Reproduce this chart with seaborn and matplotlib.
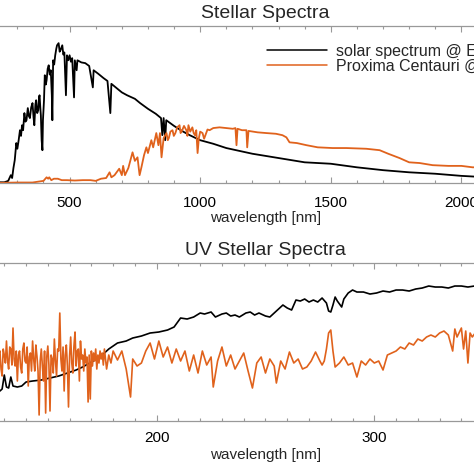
import numpy as np
import pandas as pd
import matplotlib
matplotlib.use("Agg")
import matplotlib.pyplot as plt
import seaborn as sns
from matplotlib.ticker import MultipleLocator

# ---- full spectra (arbitrary flux units) ----
solar_wl = [200, 232, 250, 265, 275, 280, 285, 290, 296, 300, 305, 310, 314, 318, 322, 327, 331, 335, 340, 344, 348,
            353, 358, 362, 365, 369, 372, 376, 380, 383, 385, 388, 390, 393, 396, 398, 402, 405, 409, 412, 416, 420, 424, 428, 432, 434,
            437, 441, 445, 449, 452, 458, 462, 465, 472, 476, 480, 486, 490, 495, 500, 505, 510, 517, 520, 527, 530, 545, 560,
            575, 589, 592, 610, 630, 645, 656, 660, 680, 700, 720, 750, 770, 800, 830, 850,
            855, 860, 866, 870, 900, 930, 960, 1000, 1050, 1100, 1150, 1200, 1250, 1300,
            1400, 1500, 1600, 1700, 1800, 1900, 2000, 2100]
solar_flux = [0.0, 0.01, 0.01, 0.03, 0.11, 0.07, 0.21, 0.32, 0.56, 0.48, 0.60, 0.74, 0.66, 0.81, 0.74, 0.98, 0.86, 0.88, 1.05, 0.94, 0.91,
              1.06, 1.12, 0.92, 0.81, 1.10, 1.16, 0.98, 1.02, 1.20, 1.23, 1.05, 0.95, 0.60, 0.46, 0.88, 1.16, 1.51, 1.38, 1.44, 1.60, 1.65, 1.52, 1.58, 1.23, 0.88,
              1.72, 1.66, 1.79, 1.88, 1.93, 1.96, 1.84, 1.86, 1.93, 1.80, 1.83, 1.23, 1.79, 1.72, 1.79, 1.70, 1.75, 1.20, 1.72, 1.58, 1.72, 1.69, 1.68,
              1.64, 1.34, 1.58, 1.53, 1.47, 1.43, 0.98, 1.39, 1.33, 1.27, 1.23, 1.18, 1.12, 1.04, 0.97, 0.91,
              0.67, 0.91, 0.60, 0.88, 0.80, 0.73, 0.67, 0.60, 0.55, 0.49, 0.45, 0.41, 0.38, 0.35,
              0.29, 0.27, 0.22, 0.18, 0.15, 0.13, 0.10, 0.08]

proxima_wl = [200, 300, 358, 400, 412, 418, 422, 430, 440, 455, 470, 490, 520, 550, 580, 600,
              620, 640, 653, 660, 672, 690, 700, 705, 712, 725, 741, 750, 760, 768, 775, 785,
              794, 800, 813, 820, 832, 840, 846, 852, 860, 871, 876, 880, 886, 894, 899, 905, 912, 921, 925, 930, 938, 947,
              951, 955, 962, 970, 975, 980, 985, 990, 995, 1000, 1009, 1015, 1020, 1028, 1036, 1050, 1074, 1100, 1125, 1135, 1139,
              1143, 1160, 1177, 1180, 1185, 1220, 1253, 1290, 1315, 1330, 1342, 1370, 1407,
              1450, 1507, 1560, 1636, 1687, 1720, 1763, 1800, 1840, 1890, 1950, 2000, 2043, 2100]
proxima_flux = [0.0, 0.007, 0.007, 0.03, 0.08, 0.06, 0.08, 0.04, 0.06, 0.06, 0.04, 0.04, 0.035, 0.04, 0.04, 0.03,
                0.06, 0.07, 0.15, 0.08, 0.11, 0.20, 0.11, 0.24, 0.11, 0.21, 0.43, 0.31, 0.36, 0.11, 0.22, 0.39,
                0.50, 0.42, 0.60, 0.50, 0.70, 0.53, 0.70, 0.36, 0.63, 0.70, 0.60, 0.63, 0.72, 0.74, 0.66, 0.70, 0.78, 0.81, 0.70, 0.73, 0.80, 0.74,
                0.66, 0.81, 0.72, 0.78, 0.70, 0.67, 0.74, 0.42, 0.63, 0.72, 0.70, 0.62, 0.67, 0.75, 0.74, 0.77, 0.78, 0.77, 0.76, 0.77, 0.53,
                0.76, 0.74, 0.74, 0.50, 0.73, 0.71, 0.70, 0.69, 0.67, 0.64, 0.57, 0.56, 0.53,
                0.50, 0.49, 0.49, 0.48, 0.46, 0.41, 0.35, 0.29, 0.28, 0.25, 0.24, 0.24, 0.22, 0.22]

# ---- UV spectra ----
uv_solar_wl = [120, 125, 128, 129, 130, 131, 132, 133, 134, 136, 138, 140, 143, 147, 151, 155,
               159, 163, 166, 170, 174, 178, 182, 186, 189, 193, 197, 201, 205, 208, 210, 211,
               214, 217, 220, 222, 225, 227, 230, 232, 234, 236, 238, 241, 243, 245, 247, 250,
               252, 254, 256, 258, 260, 262, 264, 266, 268, 270, 272, 274, 276, 278, 279, 280,
               281, 282, 283, 285, 286, 288, 290, 292, 295, 298, 301, 304, 307, 310, 313, 316,
               319, 322, 325, 328, 331, 334, 337, 340, 343, 346, 350]
uv_solar_flux = [0.30, 0.31, 0.30, 0.32, 0.46, 0.34, 0.33, 0.44, 0.35, 0.34, 0.35, 0.39, 0.40, 0.41, 0.43, 0.45,
                 0.48, 0.51, 0.54, 0.59, 0.64, 0.72, 0.78, 0.80, 0.83, 0.85, 0.88, 0.89, 0.91, 0.94, 1.00, 1.03,
                 1.02, 1.04, 1.08, 1.07, 1.09, 1.04, 1.07, 1.08, 1.05, 1.06, 1.04, 1.08, 1.09, 1.06, 1.08, 1.05,
                 1.04, 1.08, 1.12, 1.16, 1.13, 1.11, 1.21, 1.20, 1.22, 1.19, 1.21, 1.19, 1.23, 1.18, 1.10, 1.09,
                 1.16, 1.24, 1.20, 1.14, 1.22, 1.28, 1.31, 1.29, 1.29, 1.27, 1.28, 1.30, 1.29, 1.31, 1.31, 1.30,
                 1.32, 1.33, 1.35, 1.34, 1.34, 1.33, 1.35, 1.35, 1.34, 1.35, 1.35]

uv_proxima_wl = [125, 125.5, 126, 126.5, 127, 127.5, 128, 128.5, 129, 129.5, 130, 130.5, 131, 131.5, 132, 132.5,
                 133, 133.5, 134, 134.5, 135, 135.5, 136, 136.5, 137, 137.5, 138, 138.5, 139, 139.5, 140, 140.5,
                 141, 141.5, 142, 142.5, 143, 143.5, 144, 144.5, 145, 145.5, 146, 146.5, 147, 147.5, 148, 148.5,
                 149, 149.5, 150, 150.5, 151, 151.5, 152, 152.5, 153, 153.5, 154, 154.5, 155, 155.5, 156, 156.5,
                 157, 157.5, 158, 158.5, 159, 159.5, 160, 160.5, 161, 161.5, 162, 162.5, 163, 163.5, 164, 164.5,
                 165, 165.5, 166, 166.5, 167, 167.5, 168, 168.5, 169, 169.5, 170, 170.5, 171, 171.5, 172, 172.5,
                 173, 173.5, 174, 174.5, 175, 175.5, 176, 177, 178, 179, 180,
                 182, 184, 186, 188, 189, 191, 193, 195,
                 197, 199, 201, 203, 205, 207, 209, 211, 213, 215, 217, 219, 221, 223, 225, 226,
                 228, 230, 232, 234, 236, 238, 240, 242, 244, 246, 248, 250, 252, 254, 255, 257,
                 259, 261, 263, 265, 267, 269, 271, 273, 275, 276, 277, 278, 279, 280, 281, 282,
                 284, 286, 288, 290, 292, 294, 296, 298, 300, 302, 304, 306, 308, 310, 312, 314,
                 316, 318, 320, 322, 324, 326, 328, 330, 332, 334, 336, 337, 338, 340, 341, 342,
                 343, 344, 345, 347, 350]
uv_proxima_flux = [0.62, 0.70, 0.75, 0.55, 0.50, 0.68, 0.70, 0.52, 0.45, 0.72, 0.66, 0.58, 0.80, 0.60, 0.52, 0.74,
                   0.72, 0.56, 0.93, 0.62, 0.55, 0.70, 0.40, 0.66, 0.70, 0.54, 0.48, 0.72, 0.78, 0.60, 0.58, 0.74,
                   0.35, 0.64, 0.68, 0.50, 0.80, 0.62, 0.50, 0.76, 0.65, 0.50, 0.06, 0.60, 0.72, 0.55, 0.40, 0.70,
                   0.08, 0.64, 0.75, 0.56, 0.10, 0.66, 0.62, 0.48, 0.82, 0.60, 0.45, 0.72, 0.70, 1.08, 0.62, 0.50,
                   0.74, 0.30, 0.66, 0.76, 0.55, 0.14, 0.65, 0.84, 0.58, 0.48, 0.75, 0.89, 0.55, 0.70, 0.72, 0.40,
                   0.80, 0.62, 0.66, 0.50, 0.72, 0.58, 0.64, 0.19, 0.66, 0.22, 0.70, 0.55, 0.68, 0.60, 0.72, 0.52,
                   0.66, 0.58, 0.70, 0.62, 0.68, 0.56, 0.72, 0.52, 0.66, 0.58, 0.70,
                   0.61, 0.70, 0.52, 0.24, 0.62, 0.55, 0.58, 0.70,
                   0.78, 0.62, 0.80, 0.64, 0.74, 0.58, 0.72, 0.60, 0.70, 0.50, 0.66, 0.48, 0.70, 0.56, 0.64, 0.34,
                   0.60, 0.74, 0.55, 0.66, 0.52, 0.60, 0.68, 0.50, 0.33, 0.58, 0.64, 0.48, 0.62, 0.55, 0.38, 0.60,
                   0.52, 0.69, 0.58, 0.62, 0.52, 0.54, 0.60, 0.69, 0.60, 0.56, 0.60, 0.72, 0.88, 0.91, 0.70, 0.54,
                   0.58, 0.64, 0.56, 0.58, 0.44, 0.60, 0.56, 0.62, 0.58, 0.60, 0.51, 0.66, 0.68, 0.70, 0.74, 0.72,
                   0.78, 0.76, 0.82, 0.80, 0.84, 0.86, 0.84, 0.88, 0.90, 0.86, 0.70, 0.92, 0.84, 0.93, 0.72, 0.90,
                   0.58, 0.88, 0.84, 0.90, 0.86]

labels = ["solar spectrum @ Earth", "Proxima Centauri @ Proxima b"]
colors = ["black", "#E0621C"]

sns.set_theme(style="white")
plt.rcParams["font.family"] = ["Liberation Sans", "DejaVu Sans"]

full = pd.concat([
    pd.DataFrame({"wl": solar_wl, "flux": solar_flux, "src": labels[0]}),
    pd.DataFrame({"wl": proxima_wl, "flux": proxima_flux, "src": labels[1]}),
])
uv = pd.concat([
    pd.DataFrame({"wl": uv_solar_wl, "flux": uv_solar_flux, "src": labels[0]}),
    pd.DataFrame({"wl": uv_proxima_wl, "flux": uv_proxima_flux, "src": labels[1]}),
])

fig = plt.figure(figsize=(4.74, 4.74), dpi=100)
# axes run past the figure edges (the reference is a crop of a wider figure)
ax1 = fig.add_axes([-0.1287, 0.6139, 1.3776, 0.3312])
ax2 = fig.add_axes([-0.1287, 0.1118, 1.3776, 0.3333])

pal = dict(zip(labels, colors))
sns.lineplot(data=full, x="wl", y="flux", hue="src", palette=pal, estimator=None,
             linewidth=1.3, ax=ax1)
sns.lineplot(data=uv, x="wl", y="flux", hue="src", palette=pal, estimator=None,
             linewidth=1.2, ax=ax2, legend=False)

for ax, (lo, hi), major, minor, ytop, title, tpad in [
        (ax1, (0, 2500), 500, 100, 2.2, "Stellar Spectra", 9),
        (ax2, (100, 400), 100, 10, 1.58, "UV Stellar Spectra", 7)]:
    ax.set_xlim(lo, hi)
    ax.set_ylim(0, ytop)
    ax.xaxis.set_major_locator(MultipleLocator(major))
    ax.xaxis.set_minor_locator(MultipleLocator(minor))
    ax.tick_params(axis="x", which="both", direction="in", top=True, bottom=True,
                   color="#999999", labelsize=11, pad=tpad, labelcolor="black")
    ax.tick_params(axis="x", which="major", length=4, width=0.8)
    ax.tick_params(axis="x", which="minor", length=2.5, width=0.8)
    ax.set_yticks([])
    for s in ax.spines.values():
        s.set_color("#999999")
        s.set_linewidth(0.9)
    ax.set_xlabel("wavelength [nm]", fontsize=11, labelpad=1 if ax is ax1 else 2)
    ax.set_ylabel("")
    ax.set_title(title, fontsize=14, pad=6)

leg = ax1.legend(loc="upper left", bbox_to_anchor=(0.503, 0.885), frameon=False,
                 fontsize=11.5, handlelength=3.7, handletextpad=0.6, labelspacing=0.0,
                 borderpad=0, borderaxespad=0)
for h in leg.legend_handles:
    h.set_linewidth(1.1)

fig.savefig("out.png", dpi=100)
